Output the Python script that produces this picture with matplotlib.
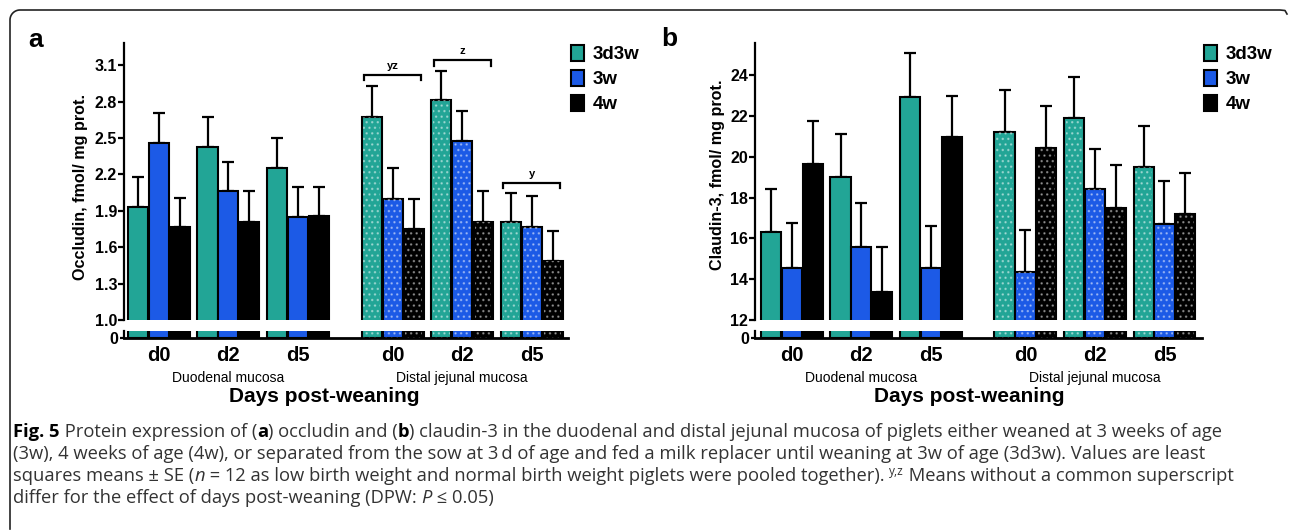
import numpy as np
import matplotlib
matplotlib.use("Agg")
import matplotlib.pyplot as plt
from matplotlib.transforms import blended_transform_factory
from matplotlib.patches import Patch

# ---- data ----
days = ["d0", "d2", "d5", "d0", "d2", "d5"]
series = ["3d3w", "3w", "4w"]

occludin = {
    "3d3w": [1.93, 2.43, 2.25, 2.67, 2.81, 1.81],
    "3w":   [2.46, 2.06, 1.85, 2.00, 2.48, 1.77],
    "4w":   [1.77, 1.81, 1.86, 1.75, 1.81, 1.49],
}
occludin_se = {
    "3d3w": [0.25, 0.24, 0.25, 0.26, 0.24, 0.24],
    "3w":   [0.25, 0.24, 0.25, 0.25, 0.24, 0.25],
    "4w":   [0.24, 0.25, 0.24, 0.25, 0.25, 0.24],
}
claudin = {
    "3d3w": [16.3, 19.0, 22.95, 21.2, 21.9, 19.5],
    "3w":   [14.55, 15.6, 14.55, 14.35, 18.4, 16.7],
    "4w":   [19.65, 13.37, 20.95, 20.45, 17.5, 17.2],
}
claudin_se = {
    "3d3w": [2.1, 2.1, 2.15, 2.1, 2.0, 2.0],
    "3w":   [2.2, 2.15, 2.05, 2.05, 2.0, 2.1],
    "4w":   [2.1, 2.2, 2.05, 2.05, 2.1, 2.0],
}
# superscript brackets over the distal jejunal groups of panel a
bracket_groups = [3, 4, 5]
bracket_levels = [3.02, 3.14, 2.13]
bracket_labels = ["yz", "z", "y"]

colors = {"3d3w": "#22a596", "3w": "#1c5ae6", "4w": "#000000"}
group_x = np.array([0, 1, 2, 3.36, 4.36, 5.36])
offsets = [-0.3, 0.0, 0.3]
bw = 0.29

W, H = 1290, 531
fig = plt.figure(figsize=(W / 100, H / 100), dpi=100)
fig.patch.set_facecolor("white")

BF = "Liberation Sans"
CF = ["Open Sans", "DejaVu Sans"]


def box(x0, x1, y0, y1):
    return [x0 / W, 1 - y1 / H, (x1 - x0) / W, (y1 - y0) / H]


def draw_panel(x0, x1, xlim, vals, ses, ylim, yticks, fmt, ylabel, ylab_xy):
    top = fig.add_axes(box(x0, x1, 43, 320))
    bot = fig.add_axes(box(x0, x1, 331, 338))
    for a in (top, bot):
        a.set_xlim(*xlim)
        a.patch.set_alpha(0)
        for s in ("top", "right"):
            a.spines[s].set_visible(False)
        a.spines["left"].set_linewidth(1.6)
    top.spines["bottom"].set_visible(False)
    bot.spines["bottom"].set_linewidth(2.0)
    top.set_ylim(*ylim)
    bot.set_ylim(0, 1)

    for i, s in enumerate(series):
        xs = group_x + offsets[i]
        for a in (top, bot):
            a.bar(xs, vals[s], width=bw, color=colors[s], edgecolor="black",
                  linewidth=1.5, zorder=2)
            # dotted texture on the distal jejunal bars
            a.bar(xs[3:], vals[s][3:], width=bw - 0.05, facecolor="none",
                  edgecolor=(1, 1, 1, 0.4), linewidth=0, hatch="...", zorder=3)
        top.errorbar(xs, vals[s], yerr=[np.zeros(6), ses[s]], fmt="none",
                     ecolor="black", elinewidth=1.6, capsize=4.5, capthick=1.6, zorder=1)

    top.set_xticks([])
    top.set_yticks(yticks)
    top.set_yticklabels([fmt.format(v) for v in yticks], fontfamily=BF,
                        fontweight="bold", fontsize=11.5)
    top.tick_params(axis="y", length=4, width=1.6, pad=1)
    bot.set_yticks([0])
    bot.set_yticklabels(["0"], fontfamily=BF, fontweight="bold", fontsize=11.5)
    bot.tick_params(axis="y", length=3, width=1.6, pad=1)
    bot.set_xticks(group_x)
    bot.set_xticklabels(days, fontfamily=BF, fontweight="bold", fontsize=14.5)
    bot.tick_params(axis="x", length=0, pad=6)

    tr = blended_transform_factory(bot.transData, fig.transFigure)
    bot.text(group_x[1], 1 - 378 / H, "Duodenal mucosa", transform=tr, ha="center",
             va="center", fontfamily=BF, fontsize=10)
    bot.text(group_x[4], 1 - 378 / H, "Distal jejunal mucosa", transform=tr,
             ha="center", va="center", fontfamily=BF, fontsize=10)
    fig.text(ylab_xy[0] / W, 1 - ylab_xy[1] / H, ylabel, rotation=90, ha="center",
             va="center", fontfamily=BF, fontweight="bold", fontsize=11.6)
    return top, bot


ta, ba = draw_panel(124, 568, (-0.5, 5.88), occludin, occludin_se, (1.0, 3.284),
                    np.arange(1.0, 3.15, 0.3), "{:.1f}", "Occludin, fmol/ mg prot.",
                    (80, 187))
tb, bb = draw_panel(755, 1202, (-0.53, 5.9), claudin, claudin_se, (12, 25.58),
                    np.arange(12, 25, 2), "{:.0f}", "Claudin-3, fmol/ mg prot.",
                    (717, 175))

# brackets with superscript letters (panel a)
for g, lev, lab in zip(bracket_groups, bracket_levels, bracket_labels):
    xl, xr = group_x[g] - 0.41, group_x[g] + 0.41
    ta.plot([xl, xl, xr, xr], [lev - 0.045, lev, lev, lev - 0.045], color="black",
            lw=1.6, solid_joinstyle="miter", clip_on=False)
    ta.text(group_x[g], lev + 0.035, lab, ha="center", va="bottom", fontfamily=BF,
            fontweight="bold", fontsize=8)

# legends
for a, lx in ((ta, 571), (tb, 1204)):
    handles = [Patch(facecolor=colors[s], edgecolor="black", linewidth=1.5, label=s)
               for s in series]
    a.legend(handles=handles, loc="upper left",
             bbox_to_anchor=(lx / W, 1 - 45 / H), bbox_transform=fig.transFigure,
             frameon=False, prop={"family": BF, "weight": "bold", "size": 13.5},
             handlelength=0.7, handleheight=0.9, handletextpad=0.45,
             labelspacing=0.36, borderpad=0, borderaxespad=0)

# panel letters and shared x labels
fig.text(28 / W, 1 - 40 / H, "a", fontfamily=BF, fontweight="bold", fontsize=19,
         ha="left", va="center")
fig.text(661 / W, 1 - 39 / H, "b", fontfamily=BF, fontweight="bold", fontsize=19,
         ha="left", va="center")
for cx in (324, 969):
    fig.text(cx / W, 1 - 397 / H, "Days post-weaning", fontfamily=BF,
             fontweight="bold", fontsize=15, ha="center", va="center")

# frame around the figure (top-left rounded corner)
t = np.linspace(np.pi, np.pi / 2, 20)
r = 10
fx = np.concatenate([[10, 10], 10 + r + r * np.cos(t), [1280, 1285, 1287]])
fy = np.concatenate([[529, 10 + r], 10 + r - r * np.sin(t), [10, 10.5, 14]])
fig.add_artist(plt.Line2D(fx / W, 1 - fy / H, color="#222222", lw=1.2,
                          transform=fig.transFigure))

# caption, written run by run
cap_size = 13.2
cap_col = "#333333"
lines = [
    [("Fig. 5", "bold", "normal"), (" Protein expression of (", "normal", "normal"),
     ("a", "bold", "normal"), (") occludin and (", "normal", "normal"),
     ("b", "bold", "normal"),
     (") claudin-3 in the duodenal and distal jejunal mucosa of piglets either weaned at 3 weeks of age",
      "normal", "normal")],
    [("(3w), 4 weeks of age (4w), or separated from the sow at 3\u2009d of age and fed a milk replacer until weaning at 3w of age (3d3w). Values are least",
      "normal", "normal")],
    [("squares means \u00b1 SE (", "normal", "normal"), ("n", "normal", "italic"),
     (" = 12 as low birth weight and normal birth weight piglets were pooled together). ",
      "normal", "normal"),
     ("y,z", "sup", "normal"), (" Means without a common superscript", "normal", "normal")],
    [("differ for the effect of days post-weaning (DPW: ", "normal", "normal"),
     ("P", "normal", "italic"), (" \u2264 0.05)", "normal", "normal")],
]
line_y = [432, 454, 476, 498]
fig.canvas.draw()
renderer = fig.canvas.get_renderer()
for runs, ly in zip(lines, line_y):
    x = 13
    for txt, w, st in runs:
        if w == "sup":
            tt = fig.text(x / W, 1 - (ly - 5) / H, txt, fontfamily=CF, fontsize=cap_size * 0.65,
                          color=cap_col, ha="left", va="center")
        else:
            tt = fig.text(x / W, 1 - ly / H, txt, fontfamily=CF, fontsize=cap_size,
                          fontweight=w, fontstyle=st, ha="left", va="center",
                          color="black" if w == "bold" else cap_col)
        x += tt.get_window_extent(renderer).width

fig.savefig("out.png", dpi=100, facecolor="white")
